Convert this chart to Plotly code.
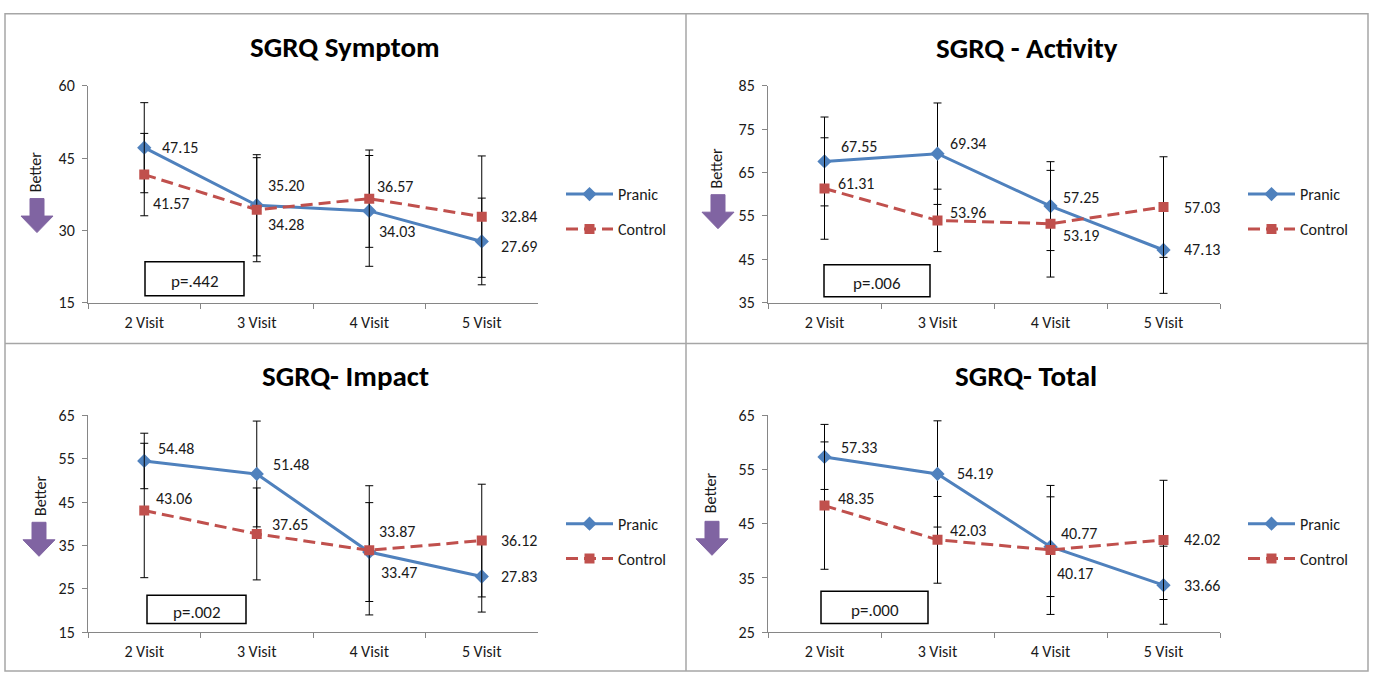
import plotly.graph_objects as go

W, H = 1373, 682

categories = ["2 Visit", "3 Visit", "4 Visit", "5 Visit"]
titles = ["SGRQ Symptom", "SGRQ - Activity", "SGRQ- Impact", "SGRQ- Total"]
p_values = ["p=.442", "p=.006", "p=.002", "p=.000"]

pranic_symptom = [47.15, 35.20, 34.03, 27.69]
control_symptom = [41.57, 34.28, 36.57, 32.84]
pranic_symptom_sd = [9.35, 10.5, 11.5, 9.0]
control_symptom_sd = [8.55, 10.8, 10.1, 12.6]

pranic_activity = [67.55, 69.34, 57.25, 47.13]
control_activity = [61.31, 53.96, 53.19, 57.03]
pranic_activity_sd = [10.25, 11.7, 10.25, 10.0]
control_activity_sd = [11.7, 7.2, 12.3, 11.6]

pranic_impact = [54.48, 51.48, 33.47, 27.83]
control_impact = [43.06, 37.65, 33.87, 36.12]
pranic_impact_sd = [6.4, 12.2, 11.4, 8.2]
control_impact_sd = [15.5, 10.6, 14.9, 13.0]

pranic_total = [57.33, 54.19, 40.77, 33.66]
control_total = [48.35, 42.03, 40.17, 42.02]
pranic_total_sd = [6.0, 9.8, 9.2, 7.2]
control_total_sd = [11.75, 8.0, 11.9, 11.0]

y_min = [15, 35, 15, 25]
y_max = [60, 85, 65, 65]
y_step = [15, 10, 10, 10]

pranic_all = [pranic_symptom, pranic_activity, pranic_impact, pranic_total]
control_all = [control_symptom, control_activity, control_impact, control_total]
pranic_sd_all = [pranic_symptom_sd, pranic_activity_sd, pranic_impact_sd, pranic_total_sd]
control_sd_all = [control_symptom_sd, control_activity_sd, control_impact_sd, control_total_sd]

# ---- layout / style (pixels) ----
plot_x = [(88, 538), (768, 1220), (88, 538), (768, 1220)]
plot_y = [(79, 302), (79, 302), (418, 641), (418, 641)]
title_pos = [(345, 39), (1027, 40), (345, 378), (1026, 378)]
pbox = [(145, 260, 244, 295), (824, 263, 930, 296), (147, 603, 246, 632), (821, 599, 928, 632)]
better_pos = [(35, 168), (716, 163), (40, 501), (710, 498)]
arrow_pos = [(37, 195), (718, 191), (39, 528), (712, 527)]
legend_pos = [(561, 173), (1243, 173), (561, 512), (1243, 512)]

off_pranic = [
    [(16, 0), (9, -20), (8, 21), (17, 5)],
    [(14, -15), (10, -10), (10, -9), (18, 0)],
    [(12, -12), (14, -9), (10, 20), (17, 0)],
    [(14, -9), (17, 0), (8, -13), (18, 0)],
]
off_control = [
    [(7, 29), (9, 15), (6, -12), (17, 0)],
    [(11, -5), (10, -8), (10, 12), (18, 0)],
    [(10, -12), (13, -9), (8, -19), (17, 0)],
    [(11, -7), (10, -9), (4, 24), (18, 0)],
]

FONT = "Carlito, Lato, sans-serif"
BLUE = "#4F81BD"
RED = "#C0504D"
PURPLE = "#8064A2"
AXIS = "#868686"
TXT = "#1a1a1a"


def fx(x):
    return x / W


def fy(y):
    return 1 - y / H


fig = go.Figure()
annotations = []
shapes = []
layout = {}

for i in range(4):
    n = "" if i == 0 else str(i + 1)
    xa, ya = "x" + n, "y" + n
    lg = "legend" + n
    fig.add_trace(go.Scatter(
        x=categories, y=pranic_all[i], name="Pranic", mode="lines+markers",
        xaxis=xa, yaxis=ya, legend=lg, legendgroup="p" + n,
        line=dict(color=BLUE, width=3),
        marker=dict(symbol="diamond", size=11, color=BLUE),
        error_y=dict(type="data", array=pranic_sd_all[i], color="black", thickness=1, width=4),
    ))
    fig.add_trace(go.Scatter(
        x=categories, y=control_all[i], name="Control", mode="lines+markers",
        xaxis=xa, yaxis=ya, legend=lg, legendgroup="c" + n,
        line=dict(color=RED, width=3, dash="12px,6px"),
        marker=dict(symbol="square", size=10, color=RED),
        error_y=dict(type="data", array=control_sd_all[i], color="black", thickness=1, width=4),
    ))
    x0, x1 = plot_x[i]
    y0, y1 = plot_y[i]
    layout["xaxis" + n] = dict(
        domain=[fx(x0), fx(x1)], anchor=ya, type="category", range=[-0.5, 3.5],
        showline=True, linecolor=AXIS, linewidth=1, ticks="outside", tickson="boundaries",
        ticklen=5, tickcolor=AXIS, showgrid=False, zeroline=False,
        tickfont=dict(family=FONT, size=16, color=TXT), ticklabelstandoff=5,
    )
    layout["yaxis" + n] = dict(
        domain=[fy(y1), fy(y0)], anchor=xa, range=[y_min[i], y_max[i]],
        tick0=y_min[i], dtick=y_step[i],
        showline=True, linecolor=AXIS, linewidth=1, ticks="outside", ticklen=5,
        tickcolor=AXIS, showgrid=False, zeroline=False,
        tickfont=dict(family=FONT, size=16, color=TXT), ticklabelstandoff=4,
    )
    lx, ly = legend_pos[i]
    layout[lg] = dict(
        x=fx(lx), y=fy(ly), xanchor="left", yanchor="top", xref="paper", yref="paper",
        font=dict(family=FONT, size=16, color=TXT), tracegroupgap=11, itemwidth=47,
        bgcolor="rgba(0,0,0,0)",
    )
    # title
    tx, ty = title_pos[i]
    annotations.append(dict(x=fx(tx), y=fy(ty), xref="paper", yref="paper", text="<b>%s</b>" % titles[i],
                            showarrow=False, xanchor="center", yanchor="middle",
                            font=dict(family=FONT, size=29, color="black")))
    # data labels
    for j, c in enumerate(categories):
        for vals, offs in ((pranic_all[i], off_pranic[i]), (control_all[i], off_control[i])):
            dx, dy = offs[j]
            annotations.append(dict(x=c, y=vals[j], xref=xa, yref=ya, text="%.2f" % vals[j],
                                    showarrow=False, xanchor="left", yanchor="middle",
                                    xshift=dx, yshift=-dy,
                                    font=dict(family=FONT, size=16, color=TXT)))
    # p-value box
    bx0, by0, bx1, by1 = pbox[i]
    shapes.append(dict(type="rect", xref="paper", yref="paper", x0=fx(bx0), x1=fx(bx1),
                       y0=fy(by1), y1=fy(by0), line=dict(color="black", width=1.5)))
    annotations.append(dict(x=fx((bx0 + bx1) / 2), y=fy((by0 + by1) / 2 + 3), xref="paper", yref="paper",
                            text=p_values[i], showarrow=False, xanchor="center", yanchor="middle",
                            font=dict(family=FONT, size=17, color=TXT)))
    # Better + arrow
    bxp, byp = better_pos[i]
    annotations.append(dict(x=fx(bxp), y=fy(byp), xref="paper", yref="paper", text="Better",
                            textangle=-90, showarrow=False, xanchor="center", yanchor="middle",
                            font=dict(family=FONT, size=16, color=TXT)))
    ax, at = arrow_pos[i]
    pts = [(ax - 7, at), (ax + 7, at), (ax + 7, at + 18), (ax + 16, at + 18), (ax, at + 35),
           (ax - 16, at + 18), (ax - 7, at + 18)]
    path = "M " + " L ".join("%f,%f" % (fx(a), fy(b)) for a, b in pts) + " Z"
    shapes.append(dict(type="path", xref="paper", yref="paper", path=path,
                       fillcolor=PURPLE, line=dict(color=PURPLE, width=1)))

# panel borders
BORDER = "#A6A6A6"
shapes.append(dict(type="rect", xref="paper", yref="paper", x0=fx(5), x1=fx(1368), y0=fy(681), y1=fy(5),
                   line=dict(color=BORDER, width=1.5)))
shapes.append(dict(type="line", xref="paper", yref="paper", x0=fx(686), x1=fx(686), y0=fy(681), y1=fy(5),
                   line=dict(color=BORDER, width=1.5)))
shapes.append(dict(type="line", xref="paper", yref="paper", x0=fx(5), x1=fx(1368), y0=fy(344), y1=fy(344),
                   line=dict(color=BORDER, width=1.5)))

fig.update_layout(
    width=W, height=H, margin=dict(l=0, r=0, t=0, b=0),
    paper_bgcolor="white", plot_bgcolor="white",
    annotations=annotations, shapes=shapes, showlegend=True,
    font=dict(family=FONT, color=TXT),
    **layout,
)

fig.write_html("out.html", config={"displayModeBar": False},
               post_script="document.body.style.margin='0px';document.body.style.overflow='hidden';")
